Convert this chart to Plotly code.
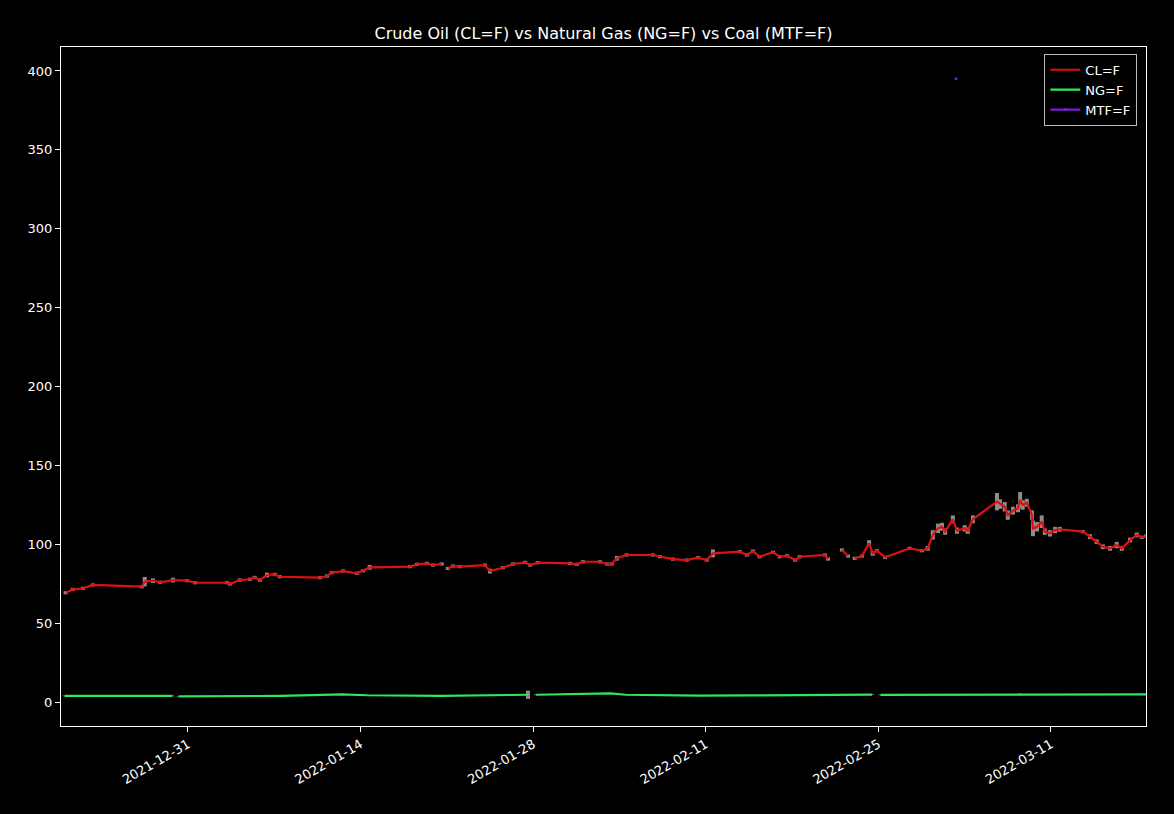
import plotly.graph_objects as go

# ---------------- data ----------------
cl_dates = [
    "2021-12-21 02:00", "2021-12-21 16:00", "2021-12-22 12:00", "2021-12-23 07:00", "2021-12-27 06:00",
    "2021-12-27 12:00", "2021-12-28 04:00", "2021-12-28 18:00", "2021-12-29 19:00", "2021-12-30 22:00",
    "2021-12-31 14:00", "2022-01-03 04:00", "2022-01-03 10:00", "2022-01-04 05:00", "2022-01-05 01:00",
    "2022-01-05 10:00", "2022-01-05 20:00", "2022-01-06 10:00", "2022-01-07 01:00", "2022-01-07 11:00",
    "2022-01-10 17:00", "2022-01-11 07:00", "2022-01-11 16:00", "2022-01-12 14:00", "2022-01-13 17:00",
    "2022-01-14 05:00", "2022-01-14 18:00", "2022-01-18 00:00", "2022-01-18 14:00", "2022-01-19 09:00",
    "2022-01-19 21:00", "2022-01-20 14:00", "2022-01-20 20:00", "2022-01-21 02:00", "2022-01-21 12:00",
    "2022-01-22 01:00", "2022-01-24 02:00", "2022-01-24 12:00", "2022-01-25 13:00", "2022-01-26 09:00",
    "2022-01-27 08:00", "2022-01-27 18:00", "2022-01-28 09:00", "2022-01-31 00:00", "2022-01-31 13:00",
    "2022-02-01 01:00", "2022-02-02 10:00", "2022-02-03 00:00", "2022-02-03 09:00", "2022-02-03 19:00",
    "2022-02-04 14:00", "2022-02-06 17:00", "2022-02-07 07:00", "2022-02-08 08:00", "2022-02-09 11:00",
    "2022-02-10 09:00", "2022-02-11 02:00", "2022-02-11 14:00", "2022-02-13 18:00", "2022-02-14 08:00",
    "2022-02-14 20:00", "2022-02-15 09:00", "2022-02-16 11:00", "2022-02-17 00:00", "2022-02-17 14:00",
    "2022-02-18 06:00", "2022-02-18 15:00", "2022-02-20 16:00", "2022-02-20 22:00", "2022-02-21 10:00",
    "2022-02-22 01:00", "2022-02-22 13:00", "2022-02-22 16:00", "2022-02-23 02:00", "2022-02-23 16:00",
    "2022-02-24 06:00", "2022-02-24 13:00", "2022-02-24 21:00", "2022-02-25 13:00", "2022-02-27 13:00",
    "2022-02-28 13:00", "2022-03-01 00:00", "2022-03-01 10:00", "2022-03-01 20:00", "2022-03-02 04:00",
    "2022-03-02 10:00", "2022-03-03 01:00", "2022-03-03 09:00", "2022-03-04 00:00", "2022-03-04 06:00",
    "2022-03-04 16:00", "2022-03-06 15:00", "2022-03-06 21:00", "2022-03-07 06:00", "2022-03-07 12:00",
    "2022-03-07 22:00", "2022-03-08 08:00", "2022-03-08 12:00", "2022-03-08 17:00", "2022-03-09 01:00",
    "2022-03-09 11:00", "2022-03-09 13:00", "2022-03-09 21:00", "2022-03-10 06:00", "2022-03-10 12:00",
    "2022-03-10 22:00", "2022-03-11 08:00", "2022-03-11 17:00", "2022-03-13 14:00", "2022-03-14 04:00",
    "2022-03-14 17:00", "2022-03-15 05:00", "2022-03-15 19:00", "2022-03-16 08:00", "2022-03-16 18:00",
    "2022-03-17 10:00", "2022-03-17 23:00", "2022-03-18 09:00", "2022-03-18 17:00",
]
cl_close = [
    69.3, 71.4, 72.1, 74.2, 73.1,
    76.3, 76.9, 75.9, 77.3, 76.9,
    75.6, 75.6, 74.8, 77.3, 77.8,
    79.0, 77.3, 80.5, 80.9, 79.4,
    78.8, 79.9, 82.0, 83.0, 81.6,
    83.2, 85.4, 85.8, 87.3, 87.9,
    86.8, 87.5, None, 84.7, 86.2,
    85.8, 86.8, 83.0, 85.1, 87.5,
    88.5, 86.8, 88.3, 87.9, 87.3,
    88.9, 88.9, 87.5, 87.5, 91.1,
    93.2, 93.2, 92.1, 90.6, 90.0,
    91.5, 90.0, 94.2, 95.3, 93.2,
    95.7, 92.1, 94.9, 92.1, 92.7,
    90.0, 92.1, 93.2, 90.6, None,
    96.4, 92.5, None, 91.1, 92.5,
    100.6, 94.2, 95.9, 91.7, 97.4,
    95.9, 97.4, 105.9, 110.1, 111.1,
    108.0, 115.8, 108.6, 110.1, 108.6,
    115.8, 127.0, 125.5, 123.8, 118.5,
    121.3, 122.8, 128.1, 124.9, 126.3,
    118.5, 110.1, 111.1, 114.3, 108.0,
    106.9, 109.0, 109.5, 108.0, 104.8,
    101.6, 98.4, 97.4, 99.5, 97.4,
    102.7, 105.9, 104.4, 105.2,
]
cl_err = [
    1.0, 1.0, 1.0, 1.0, 1.0,
    3.0, 1.5, 1.0, 1.5, 1.0,
    1.0, 1.0, 1.0, 1.0, 1.0,
    1.0, 1.0, 1.5, 1.0, 1.0,
    1.0, 1.0, 1.0, 1.0, 1.0,
    1.0, 1.5, 1.0, 1.0, 1.0,
    1.0, 1.0, 0.0, 1.0, 1.0,
    1.0, 1.0, 1.5, 1.0, 1.0,
    1.0, 1.0, 1.0, 1.0, 1.0,
    1.0, 1.0, 1.0, 1.0, 1.5,
    1.0, 1.0, 1.0, 1.0, 1.0,
    1.0, 1.0, 2.5, 1.0, 1.0,
    1.0, 1.0, 1.0, 1.0, 1.0,
    1.0, 1.0, 1.0, 1.0, 0.0,
    1.0, 1.0, 0.0, 1.0, 1.0,
    2.0, 1.5, 1.0, 1.0, 1.0,
    1.0, 1.5, 3.0, 3.0, 2.5,
    2.0, 2.5, 2.0, 2.0, 2.0,
    2.5, 5.5, 3.0, 3.0, 3.0,
    2.5, 2.5, 5.0, 3.0, 2.5,
    3.0, 5.0, 3.0, 4.0, 2.0,
    2.0, 2.0, 1.5, 1.0, 1.5,
    1.5, 1.5, 1.5, 2.0, 1.5,
    1.5, 1.5, 1.0, 1.0,
]

ng_dates = [
    "2021-12-21 00:00", "2021-12-23 12:00", "2021-12-27 12:00", "2021-12-29 18:00", "2021-12-30 00:00",
    "2021-12-30 06:00", "2022-01-03 12:00", "2022-01-07 12:00", "2022-01-12 12:00", "2022-01-14 12:00",
    "2022-01-20 12:00", "2022-01-26 12:00", "2022-01-27 14:00", "2022-01-27 22:00", "2022-01-28 06:00",
    "2022-01-31 12:00", "2022-02-03 06:00", "2022-02-04 12:00", "2022-02-10 12:00", "2022-02-14 12:00",
    "2022-02-18 12:00", "2022-02-24 12:00", "2022-02-24 22:00", "2022-02-25 04:00", "2022-03-01 12:00",
    "2022-03-08 12:00", "2022-03-11 12:00", "2022-03-18 17:00",
]
ng_close = [
    3.9, 3.8, 4.0, 3.9, None,
    3.6, 3.8, 3.9, 4.9, 4.3,
    3.9, 4.3, 4.6, None, 4.6,
    4.9, 5.5, 4.6, 4.0, 4.2,
    4.4, 4.7, None, 4.5, 4.6,
    5.0, 4.6, 4.9,
]
ng_err = [
    0.2, 0.2, 0.2, 0.2, 0.0,
    0.2, 0.2, 0.2, 0.3, 0.2,
    0.2, 0.3, 2.6, 0.0, 0.3,
    0.3, 0.3, 0.2, 0.2, 0.2,
    0.2, 0.2, 0.0, 0.2, 0.2,
    0.3, 0.2, 0.2,
]

mtf_dates = ["2022-03-03 07:00"]
mtf_close = [395.0]

x_tick_vals = ["2021-12-31", "2022-01-14", "2022-01-28", "2022-02-11", "2022-02-25", "2022-03-11"]
x_tick_text = x_tick_vals
y_tick_vals = [0, 50, 100, 150, 200, 250, 300, 350, 400]

# ---------------- figure ----------------
FONT = "DejaVu Sans, Verdana, sans-serif"
ERR_COLOR = "#8c8c8c"
fig = go.Figure()

# error bars first (drawn underneath the price lines)
for d, v, e in [(cl_dates, cl_close, cl_err), (ng_dates, ng_close, ng_err)]:
    fig.add_trace(go.Scatter(
        x=d, y=v, mode="markers", showlegend=False, hoverinfo="skip",
        marker=dict(size=1, opacity=0),
        error_y=dict(type="data", array=e, visible=True, color=ERR_COLOR, thickness=4, width=0),
    ))

fig.add_trace(go.Scatter(
    x=cl_dates, y=cl_close, name="CL=F", mode="lines",
    line=dict(color="#e01010", width=2.2), connectgaps=False,
))
fig.add_trace(go.Scatter(
    x=ng_dates, y=ng_close, name="NG=F", mode="lines",
    line=dict(color="#2ee85a", width=2.2), connectgaps=False,
))
fig.add_trace(go.Scatter(
    x=mtf_dates, y=mtf_close, name="MTF=F", mode="lines+markers",
    line=dict(color="#7a1fd6", width=2.2),
    marker=dict(color="#7a1fd6", size=3),
))

fig.update_layout(
    width=1174, height=814,
    paper_bgcolor="black", plot_bgcolor="black",
    margin=dict(l=61, r=28, t=47, b=88),
    font=dict(family=FONT, size=13, color="white"),
    title=dict(text="Crude Oil (CL=F) vs Natural Gas (NG=F) vs Coal (MTF=F)",
               x=0.5, xref="paper", y=1 - 33 / 814, yanchor="middle",
               font=dict(family=FONT, size=16, color="white")),
    showlegend=True,
    legend=dict(x=0.992, y=0.99, xanchor="right", yanchor="top",
                bgcolor="black", bordercolor="#bbbbbb", borderwidth=1,
                font=dict(family=FONT, size=13, color="white")),
)
fig.update_xaxes(
    type="date", range=["2021-12-20 17:00", "2022-03-18 17:00"],
    tickvals=x_tick_vals, ticktext=x_tick_text, tickangle=-30,
    showgrid=False, zeroline=False,
    showline=True, linecolor="white", linewidth=1, mirror=True,
    ticks="outside", ticklen=5, tickcolor="white",
    tickfont=dict(family=FONT, size=13, color="white"),
)
fig.update_yaxes(
    range=[-15.2, 415.2], tickvals=y_tick_vals,
    showgrid=False, zeroline=False,
    showline=True, linecolor="white", linewidth=1, mirror=True,
    ticks="outside", ticklen=5, tickcolor="white",
    tickfont=dict(family=FONT, size=13, color="white"),
)

fig.write_html("out.html", config={"displayModeBar": False},
               post_script="document.body.style.margin='0';document.body.style.background='black';")
